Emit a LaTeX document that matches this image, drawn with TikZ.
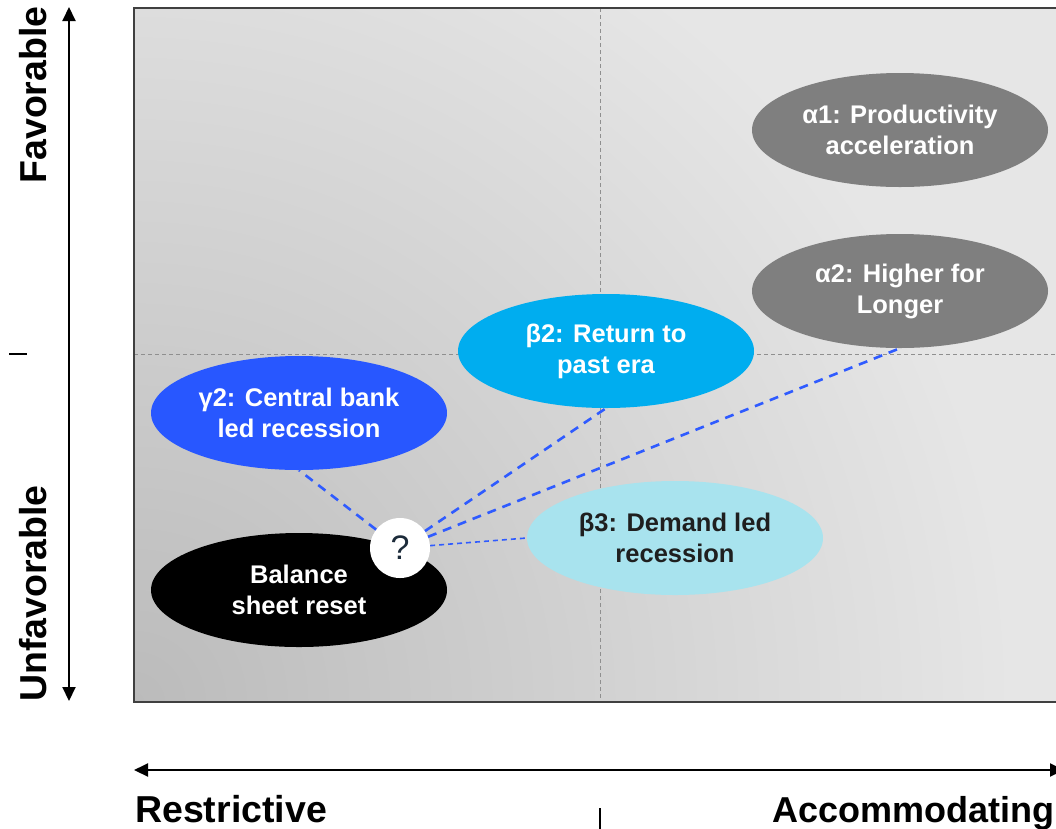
\documentclass[tikz,border=0pt]{standalone}
\usepackage{fontspec}
\setmainfont{Liberation Sans}
\usetikzlibrary{shapes.geometric,arrows.meta}
\definecolor{panelbg}{HTML}{E6E6E6}
\definecolor{paneldark}{HTML}{BBBBBB}
\definecolor{gridgray}{HTML}{8F8F8F}
\definecolor{framegray}{HTML}{404040}
\definecolor{alphagray}{HTML}{7F7F7F}
\definecolor{betablue}{HTML}{00ADEF}
\definecolor{gammablue}{HTML}{2857FF}
\definecolor{betacyan}{HTML}{A8E3EE}
\definecolor{linkblue}{HTML}{2F5BFF}
\definecolor{qnavy}{HTML}{1C2B3A}
\pgfdeclareradialshading{panelshade}{\pgfpoint{0bp}{0bp}}{color(0bp)=(paneldark); color(25bp)=(panelbg); color(50bp)=(panelbg)}
\tikzset{
  scen/.style={ellipse, minimum width=296pt, minimum height=114pt, inner sep=0pt,
    align=center, text=white, font=\bfseries\fontsize{25.5}{31}\selectfont},
  axislabel/.style={font=\bfseries\fontsize{37.5}{42}\selectfont, inner sep=0pt},
  link/.style={draw=linkblue, line width=2.6pt, dash pattern=on 9pt off 7pt},
  thinlink/.style={draw=linkblue, line width=1.6pt, dash pattern=on 5pt off 4pt},
  gridline/.style={draw=gridgray, line width=1pt, dash pattern=on 4pt off 3pt},
  axisarrow/.style={line width=2pt, {Triangle[width=13pt,length=14pt]}-{Triangle[width=13pt,length=14pt]}},
}
\begin{document}
\begin{tikzpicture}[x=1pt,y=-1pt]
\useasboundingbox (0,0) rectangle (1056,828);
% panel background
\begin{scope}
\clip (134,8) rectangle (1062,702);
\fill[panelbg] (134,8) rectangle (1062,702);
\shade[shading=panelshade] (134,702) circle (880);
\end{scope}
% grid lines
\coordinate (gvt) at (600,8);
\coordinate (gvb) at (600,702);
\coordinate (ghl) at (134,354);
\coordinate (ghr) at (1062,354);
\draw[gridline] (gvt) -- (gvb);
\draw[gridline] (ghl) -- (ghr);
% frame
\draw[framegray, line width=1.5pt] (134,8) rectangle (1062,702);
% scenario ellipses
\node[scen, fill=alphagray] (a1) at (900,130) {α1: Productivity\\acceleration};
\node[scen, fill=alphagray] (a2) at (900,291) {α2: Higher for\\Longer};
\node[scen, fill=betablue] (b2) at (606,351) {β2: Return to\\past era};
\node[scen, fill=gammablue] (g2) at (299,413) {γ2: Central bank\\led recession};
\node[scen, fill=betacyan, text=black!88] (b3) at (675,538) {β3: Demand led\\recession};
\node[scen, fill=black] (bs) at (299,590) {Balance\\sheet reset};
% question circle
\node[circle, fill=white, minimum size=60pt, inner sep=0pt, text=qnavy,
      font=\fontsize{34}{36}\selectfont] (q) at (400,548) {?};
% connectors
\draw[link] (q) -- (g2.south);
\draw[link] (q) -- (b2.south);
\draw[link] (q) -- (a2.south);
\draw[thinlink] (q) -- (b3.west);
% vertical axis
\coordinate (vtop) at (69,7);
\coordinate (vbot) at (69,701);
\draw[axisarrow] (vbot) -- (vtop);
\coordinate (tl1) at (9,354);
\coordinate (tl2) at (27,354);
\draw[line width=1.5pt] (tl1) -- (tl2);
\node[axislabel, rotate=90] (fav) at (33,95) {Favorable};
\node[axislabel, rotate=90] (unfav) at (33,593.5) {Unfavorable};
% horizontal axis
\coordinate (hl) at (134,770);
\coordinate (hr) at (1064,770);
\draw[axisarrow] (hl) -- (hr);
\coordinate (tb1) at (600,808);
\coordinate (tb2) at (600,830);
\draw[line width=1.5pt] (tb1) -- (tb2);
\node[axislabel, anchor=base west] (restr) at (135,822) {Restrictive};
\node[axislabel, anchor=base west, font=\bfseries\fontsize{36}{42}\selectfont] (accom) at (772,822) {Accommodating};
\end{tikzpicture}
\end{document}
